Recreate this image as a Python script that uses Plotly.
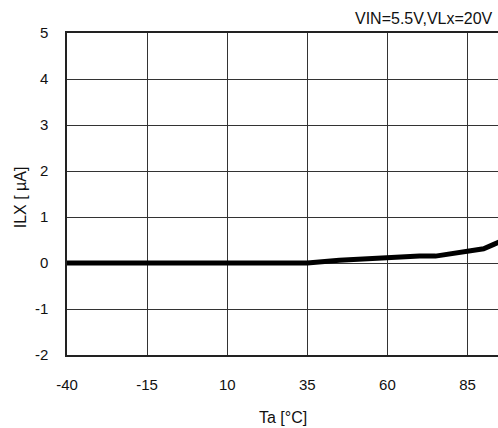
import plotly.graph_objects as go

ta = [-40, -15, 10, 25, 35, 45, 60, 70, 75, 85, 90, 93, 95]
ilx = [0, 0, 0, 0, 0, 0.06, 0.13, 0.15, 0.15, 0.24, 0.31, 0.40, 0.46]
x_ticks = [-40, -15, 10, 35, 60, 85]
x_labels = ["-40", "-15", "10", "35", "60", "85"]
y_ticks = [-2, -1, 0, 1, 2, 3, 4, 5]
y_labels = ["-2", "-1", "0", "1", "2", "3", "4", "5"]

FONT = "Liberation Sans, Arial, sans-serif"

fig = go.Figure()
fig.add_trace(go.Scatter(x=ta, y=ilx, mode="lines",
                         line=dict(color="black", width=5), showlegend=False))

fig.update_layout(
    width=498, height=428,
    margin=dict(l=67, r=0, t=33, b=73),
    paper_bgcolor="white", plot_bgcolor="white",
    font=dict(family=FONT, size=15, color="#111"),
    xaxis=dict(range=[-40, 94.5], tickvals=x_ticks, ticktext=x_labels,
               showgrid=True, gridcolor="#333", gridwidth=1, showline=True,
               linecolor="#222", linewidth=1.5, mirror=True, zeroline=False,
               ticks="", ticklabelstandoff=15),
    yaxis=dict(range=[-2, 5], tickvals=y_ticks, ticktext=y_labels,
               showgrid=True, gridcolor="#333", gridwidth=1, showline=True,
               linecolor="#222", linewidth=1.5, mirror=False, zeroline=False,
               ticks="", ticklabelstandoff=14),
    annotations=[
        dict(text="VIN=5.5V,VLx=20V", x=0.993, xref="paper", xanchor="right",
             y=1.045, yref="paper", yanchor="middle", showarrow=False,
             font=dict(size=16)),
        dict(text="Ta [°C]", x=0.5, xref="paper", xanchor="center",
             y=-0.195, yref="paper", yanchor="middle", showarrow=False,
             font=dict(size=16)),
        dict(text="ILX [ µA]", x=-0.109, xref="paper", xanchor="center",
             y=0.49, yref="paper", yanchor="middle", showarrow=False,
             textangle=-90, font=dict(size=16)),
    ],
)
fig.write_html("out.html", config={"displayModeBar": False},
               post_script="document.body.style.margin='0';document.body.style.overflow='hidden';")
